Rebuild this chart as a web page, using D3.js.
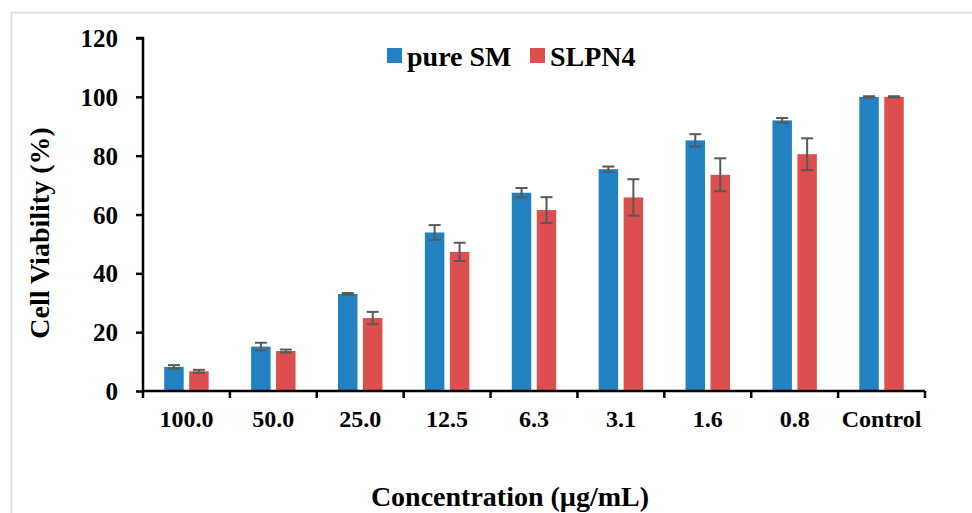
<!DOCTYPE html>
<html>
<head>
<meta charset="utf-8">
<script src="https://cdn.jsdelivr.net/npm/d3@7"></script>
<style>
  body { margin: 0; background: #fff; }
  text { font-family: "Liberation Serif", "Times New Roman", serif; font-weight: bold; fill: #000; }
</style>
</head>
<body>
<div id="chart"></div>
<script>
const categories = ["100.0", "50.0", "25.0", "12.5", "6.3", "3.1", "1.6", "0.8", "Control"];
const series = ["pure SM", "SLPN4"];
const pureSM = [8.2, 15.1, 33.0, 53.9, 67.4, 75.4, 85.2, 92.0, 100];
const pureSMErr = [0.6, 1.3, 0.3, 2.5, 1.6, 0.9, 2.1, 0.8, 0.2];
const slpn4 = [6.7, 13.6, 24.8, 47.3, 61.5, 65.8, 73.5, 80.5, 100];
const slpn4Err = [0.5, 0.5, 2.1, 3.1, 4.4, 6.2, 5.6, 5.4, 0.2];
const yTicks = [0, 20, 40, 60, 80, 100, 120];

const colors = { "pure SM": "#2181c1", "SLPN4": "#dd4f4e" };

const w = 972;
const h = 513;

const svg = d3.select('#chart')
  .append('svg')
  .attr('width', w)
  .attr('height', h);

// outer chart frame (runs off the right and bottom edges)
svg.append('rect')
  .attr('x', 11.5).attr('y', 12.5)
  .attr('width', 1000).attr('height', 600)
  .attr('fill', 'none')
  .attr('stroke', '#d9d9d9')
  .attr('stroke-width', 1.5);

const xScale = d3.scaleBand()
  .domain(categories)
  .range([143, 925]);

const x1 = d3.scaleBand()
  .domain(series)
  .range([0, xScale.bandwidth()])
  .paddingInner(0.22)
  .paddingOuter(0.85);

const yScale = d3.scaleLinear()
  .domain([0, 120])
  .range([391, 38]);

const rows = categories.map((c, i) => ({
  cat: c,
  vals: [
    { s: "pure SM", v: pureSM[i], e: pureSMErr[i] },
    { s: "SLPN4", v: slpn4[i], e: slpn4Err[i] }
  ]
}));

const groups = svg.selectAll('g.grp')
  .data(rows)
  .enter()
  .append('g')
  .attr('class', 'grp')
  .attr('transform', d => `translate(${xScale(d.cat)},0)`);

groups.selectAll('rect')
  .data(d => d.vals)
  .enter()
  .append('rect')
  .attr('x', d => x1(d.s))
  .attr('y', d => yScale(d.v))
  .attr('width', x1.bandwidth())
  .attr('height', d => yScale(0) - yScale(d.v))
  .attr('fill', d => colors[d.s]);

// error bars
const err = groups.selectAll('g.err')
  .data(d => d.vals)
  .enter()
  .append('g')
  .attr('class', 'err')
  .attr('stroke', '#595959')
  .attr('stroke-width', 2);

const cx = d => x1(d.s) + x1.bandwidth() / 2;
err.append('line')
  .attr('x1', cx).attr('x2', cx)
  .attr('y1', d => yScale(d.v + d.e))
  .attr('y2', d => yScale(d.v - d.e));
err.append('line')
  .attr('x1', d => cx(d) - 6).attr('x2', d => cx(d) + 6)
  .attr('y1', d => yScale(d.v + d.e))
  .attr('y2', d => yScale(d.v + d.e));
err.append('line')
  .attr('x1', d => cx(d) - 6).attr('x2', d => cx(d) + 6)
  .attr('y1', d => yScale(d.v - d.e))
  .attr('y2', d => yScale(d.v - d.e));

// y axis
const yAxis = d3.axisLeft(yScale)
  .tickValues(yTicks)
  .tickSize(7)
  .tickPadding(18);

const gy = svg.append('g')
  .attr('transform', 'translate(143,0)')
  .call(yAxis);
gy.select('.domain').attr('stroke', '#000').attr('stroke-width', 2.5)
  .attr('d', `M-7,${yScale(120)}H0V${yScale(0)}`);
gy.selectAll('.tick line').attr('stroke', '#000').attr('stroke-width', 2.5);
gy.selectAll('.tick text')
  .style('font-size', '25px')
  .attr('dy', '0.34em');

// x axis: ticks sit on category boundaries
const gx = svg.append('g')
  .attr('transform', `translate(0,${yScale(0)})`);
gx.append('line')
  .attr('x1', 143).attr('x2', 925)
  .attr('stroke', '#000').attr('stroke-width', 2.5);
const bounds = categories.map(c => xScale(c)).concat([xScale.range()[1]]);
gx.selectAll('line.tk')
  .data(bounds)
  .enter()
  .append('line')
  .attr('class', 'tk')
  .attr('x1', d => d).attr('x2', d => d)
  .attr('y1', 0).attr('y2', 7)
  .attr('stroke', '#000').attr('stroke-width', 2.5);
gx.selectAll('text')
  .data(categories)
  .enter()
  .append('text')
  .attr('x', d => xScale(d) + xScale.bandwidth() / 2)
  .attr('y', 36)
  .attr('text-anchor', 'middle')
  .style('font-size', '24px')
  .text(d => d);

// axis titles
svg.append('text')
  .attr('transform', 'translate(49,233) rotate(-90)')
  .attr('text-anchor', 'middle')
  .style('font-size', '28px')
  .text('Cell Viability (%)');

svg.append('text')
  .attr('x', 510)
  .attr('y', 506)
  .attr('text-anchor', 'middle')
  .style('font-size', '28px')
  .text('Concentration (µg/mL)');

// legend
const legendX = [387, 530];
const legend = svg.selectAll('g.leg')
  .data(series)
  .enter()
  .append('g')
  .attr('class', 'leg')
  .attr('transform', (d, i) => `translate(${legendX[i]},48)`);
legend.append('rect')
  .attr('width', 15).attr('height', 15)
  .attr('fill', d => colors[d]);
legend.append('text')
  .attr('x', 20)
  .attr('y', 18)
  .style('font-size', '28px')
  .text(d => d);
</script>
</body>
</html>
